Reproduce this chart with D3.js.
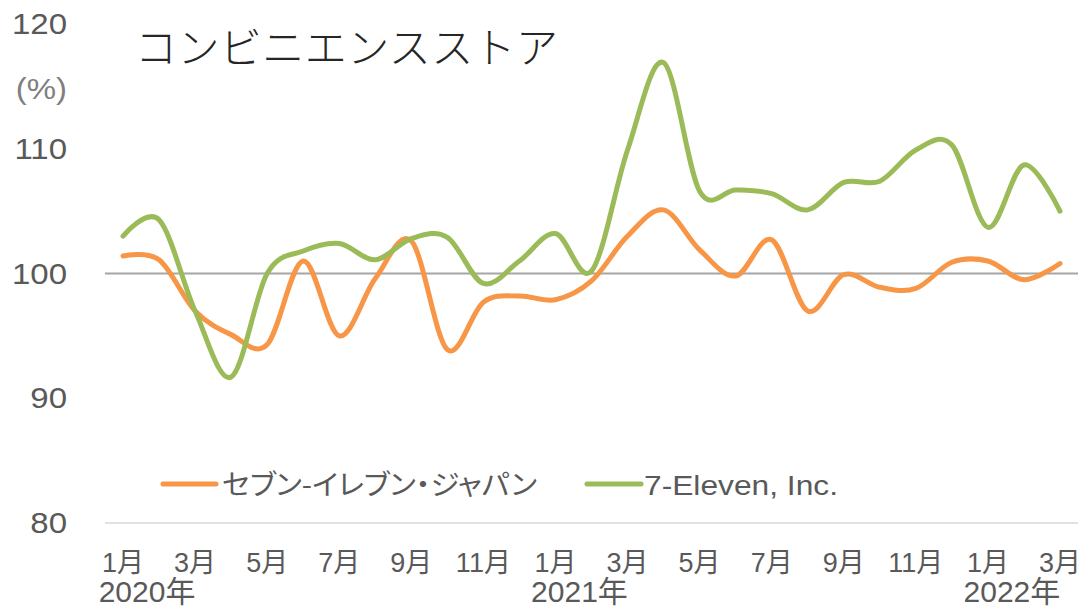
<!DOCTYPE html>
<html>
<head>
<meta charset="utf-8">
<script src="https://cdn.jsdelivr.net/npm/d3@7"></script>
<style>
  html, body { margin: 0; padding: 0; background: #fff; }
  svg { display: block; }
</style>
</head>
<body>
<svg id="chart" width="1089" height="613"></svg>
<script>
// ---- data ----
const months = ["1月","2月","3月","4月","5月","6月","7月","8月","9月","10月","11月","12月",
                "1月","2月","3月","4月","5月","6月","7月","8月","9月","10月","11月","12月",
                "1月","2月","3月"];
const years = ["2020年", "", "", "", "", "", "", "", "", "", "", "",
               "2021年", "", "", "", "", "", "", "", "", "", "", "",
               "2022年", "", ""];
const sevenJapan = [101.4, 101.1, 97.0, 95.1, 94.3, 101.0, 95.0, 99.6, 102.6, 93.9, 97.7, 98.2,
                    97.9, 99.4, 103.0, 105.1, 101.9, 99.8, 102.7, 97.0, 99.9, 98.9, 98.8, 100.9,
                    101.0, 99.5, 100.8];
const sevenInc   = [103.0, 104.3, 97.0, 91.7, 100.0, 101.8, 102.4, 101.1, 102.8, 102.9, 99.2, 101.0,
                    103.2, 100.2, 109.9, 116.9, 106.6, 106.7, 106.4, 105.1, 107.3, 107.4, 109.9, 110.3,
                    103.7, 108.7, 105.0];
const yTicks = [80, 90, 100, 110, 120];
const seriesNames = ["セブン-イレブン・ジャパン", "7-Eleven, Inc."];
const title = "コンビニエンスストア";
const unitLabel = "(%)";

// ---- layout ----
const svg = d3.select("#chart");
const colors = ["#F79646", "#9BBB59"];
const latin = "'Liberation Sans', Arial, 'Noto Sans CJK JP', sans-serif";
const cjk = "'Noto Sans CJK JP', 'Noto Sans CJK SC', sans-serif";

// widen a text horizontally by a factor (reference glyphs are slightly stretched)
function widen(sel, f) {
  sel.each(function() {
    const w = this.getComputedTextLength();
    d3.select(this).attr("textLength", w * f).attr("lengthAdjust", "spacingAndGlyphs");
  });
}

const x = d3.scaleBand().domain(d3.range(months.length)).range([105, 1078]);
const xc = i => x(i) + x.bandwidth() / 2;
const y = d3.scaleLinear().domain([80, 120]).range([523, 24]);

// y axis labels
const yAxis = d3.axisLeft(y).tickValues(yTicks).tickSize(0).tickPadding(38).tickFormat(d3.format("d"));
const gy = svg.append("g").attr("transform", "translate(105,0)").call(yAxis);
gy.select(".domain").remove();
gy.selectAll("text").attr("fill", "#595959").style("font-family", latin).style("font-size", "30px")
  .call(widen, 1.1);

// unit label
svg.append("text").attr("x", 67).attr("y", 88).attr("dy", "0.35em").attr("text-anchor", "end")
  .attr("fill", "#7F7F7F").style("font-family", latin).style("font-size", "30px").text(unitLabel)
  .call(widen, 1.1);

// bottom axis line (80)
svg.append("line").attr("x1", 105).attr("x2", 1078).attr("y1", y(80)).attr("y2", y(80))
  .attr("stroke", "#D9D9D9").attr("stroke-width", 1.5);

// 100 reference line
svg.append("line").attr("x1", 105).attr("x2", 1078).attr("y1", y(100)).attr("y2", y(100))
  .attr("stroke", "#A6A6A6").attr("stroke-width", 2);

// x axis labels: month (and year on a second line) in one text element
const xAxis = d3.axisBottom(x).tickValues(d3.range(0, months.length, 2)).tickSize(0).tickPadding(0)
  .tickFormat(() => "");
const gx = svg.append("g").call(xAxis);
gx.select(".domain").remove();
gx.selectAll(".tick text").each(function(i) {
  const t = d3.select(this).attr("y", 0).attr("dy", null)
    .attr("fill", "#595959").style("font-family", latin).attr("text-anchor", "middle");
  t.append("tspan").attr("x", 0).attr("y", 563).attr("dy", "0.35em").style("font-size", "27px").text(months[i]);
  if (years[i]) {
    t.append("tspan").attr("x", 24).attr("y", 591).attr("dy", "0.35em").style("font-size", "30px").text(years[i]);
  }
});

// lines
const line = d3.line().x((d, i) => xc(i)).y(d => y(d)).curve(d3.curveCatmullRom.alpha(0));
[sevenJapan, sevenInc].forEach((s, k) => {
  svg.append("path").datum(s).attr("d", line).attr("fill", "none")
    .attr("stroke", colors[k]).attr("stroke-width", 5).attr("stroke-linecap", "round")
    .attr("stroke-linejoin", "round");
});

// title
svg.append("text").attr("x", 135).attr("y", 63).attr("fill", "#262626")
  .style("font-family", cjk).style("font-size", "42px").style("font-weight", 300)
  .attr("textLength", 423).attr("lengthAdjust", "spacing").text(title);

// legend
const legend = [
  {x1: 163, x2: 216, tx: 222, name: seriesNames[0], font: cjk, w: 315},
  {x1: 587, x2: 641, tx: 644, name: seriesNames[1], font: latin, w: 194}
];
legend.forEach((L, k) => {
  svg.append("line").attr("x1", L.x1).attr("x2", L.x2).attr("y1", 484).attr("y2", 484)
    .attr("stroke", colors[k]).attr("stroke-width", 5).attr("stroke-linecap", "round");
  svg.append("text").attr("x", L.tx).attr("y", 485).attr("dy", "0.35em")
    .attr("fill", "#595959").style("font-family", L.font).style("font-size", "28px")
    .style("font-feature-settings", "'palt'")
    .attr("textLength", L.w).attr("lengthAdjust", "spacingAndGlyphs")
    .text(L.name);
});
</script>
</body>
</html>
